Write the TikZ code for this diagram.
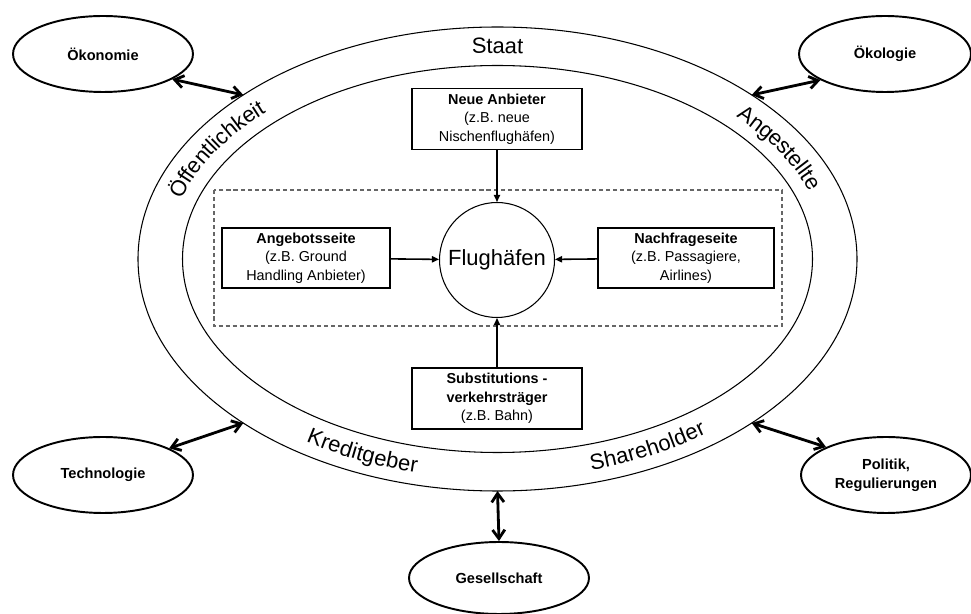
\documentclass[tikz,border=0pt]{standalone}
\usepackage{fontspec}
\setmainfont{Liberation Sans}
\usetikzlibrary{arrows.meta,calc,decorations.text,shapes.geometric}
\newcommand\bandfont{\fontsize{12.5}{15}\selectfont}
\def\bandtext(#1:#2)#3{\path[decorate,decoration={text along path,text align=center,raise=-4pt,text={|\bandfont|#3}}] ($(mitte)+(#1:337.25 and 212.75)$) arc[start angle=#1,end angle=#2,x radius=337.25,y radius=212.75];}
\tikzset{
  kasten/.style={draw, line width=1.1pt, minimum width=3.4cm, minimum height=1.22cm, align=center, inner sep=1pt, font=\fontsize{8.2}{10.6}\selectfont},
  umfeld/.style={draw, ellipse, line width=1.1pt, minimum width=3.6cm, minimum height=1.52cm, inner sep=0pt, align=center, font=\bfseries\fontsize{8.3}{10.6}\selectfont},
  dickpfeil/.style={{Straight Barb[length=5pt,width=7pt]}-{Straight Barb[length=5pt,width=7pt]}, line width=1.6pt},
  duennpfeil/.style={-{Triangle[length=4pt,width=3.5pt]}, line width=0.9pt},
  ring/.style={line width=0.6pt}
}
\begin{document}
\begin{tikzpicture}[x=0.02cm,y=0.02cm]
	%%%%% START %%%%%
	\useasboundingbox (0,0) rectangle (971,-614);
	
	\coordinate (mitte) at (497.5,-259);
	\draw[ring] (mitte) ellipse [x radius=359.5, y radius=232];
	\draw[ring] (mitte) ellipse [x radius=315, y radius=193.5];
	\draw[black!60, line width=0.6pt, dash pattern=on 2.3pt off 1.7pt] (214,-190) rectangle (782,-326);
	
	\bandtext(110:70){Staat}
	\bandtext(175:125){Öffentlichkeit}
	\bandtext(55:5){Angestellte}
	\bandtext(220:270){Kreditgeber}
	\bandtext(273:323){Shareholder}
	
	\node[kasten] (neu) at (497,-119) {\textbf{Neue Anbieter}\\(z.B. neue\\Nischenflughäfen)};
	\node[kasten, minimum width=3.36cm, minimum height=1.2cm] (angebot) at (306,-258) {\textbf{Angebotsseite}\\(z.B. Ground\\Handling Anbieter)};
	\node[kasten, minimum width=3.52cm, minimum height=1.2cm] (nachfrage) at (686,-258) {\textbf{Nachfrageseite}\\(z.B. Passagiere,\\Airlines)};
	\node[kasten] (subst) at (497,-398.5) {\textbf{Substitutions -}\\\textbf{verkehrsträger}\\(z.B. Bahn)};
	\node[draw, circle, line width=0.6pt, minimum size=2.3cm, inner sep=0pt, font=\bandfont] (flug) at (497,-260) {Flughäfen};
	
	\draw[duennpfeil] (neu) -- (flug);
	\draw[duennpfeil] (subst) -- (flug);
	\draw[duennpfeil] (angebot) -- (flug);
	\draw[duennpfeil] (nachfrage) -- (flug);
	
	\node[umfeld] (oekonomie) at (103,-54) {Ökonomie};
	\node[umfeld, minimum width=3.44cm] (oekologie) at (885,-54) {Ökologie};
	\node[umfeld] (technologie) at (103,-475) {Technologie};
	\node[umfeld, minimum width=3.4cm] (politik) at (886,-475) {Politik,\\Regulierungen};
	\node[umfeld, minimum height=1.44cm] (gesellschaft) at (499,-578) {Gesellschaft};
	
	\coordinate (r135) at ($(mitte)+(135:359.5 and 232)$);
	\coordinate (r45) at ($(mitte)+(45:359.5 and 232)$);
	\coordinate (r225) at ($(mitte)+(225:359.5 and 232)$);
	\coordinate (r315) at ($(mitte)+(315:359.5 and 232)$);
	\coordinate (r270) at ($(mitte)+(270:359.5 and 232)$);
	
	\draw[dickpfeil] (oekonomie.-20) -- (r135);
	\draw[dickpfeil] (oekologie.-158) -- (r45);
	\draw[dickpfeil] (technologie.22) -- (r225);
	\draw[dickpfeil] (politik.155) -- (r315);
	\draw[dickpfeil] (gesellschaft.north) -- (r270);
	%%%%% END %%%%%
\end{tikzpicture}
\end{document}
